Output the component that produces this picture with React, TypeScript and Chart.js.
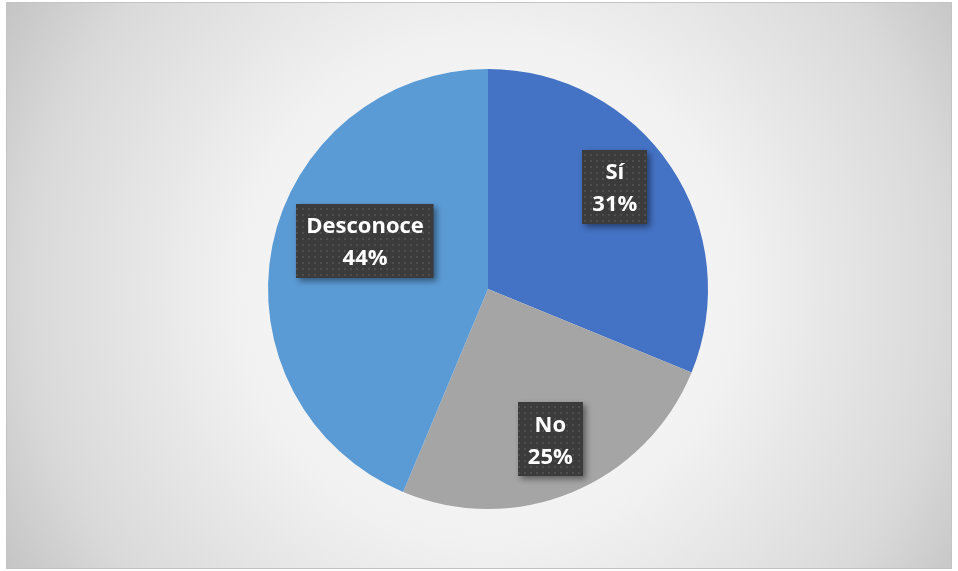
import React, {useEffect, useRef} from "react";
import {Chart, ChartConfiguration, Plugin, registerables} from "chart.js";

Chart.register(...registerables);

// data
const categories: string[] = ["Sí", "No", "Desconoce"];
const shares: number[] = [31.2, 25.1, 43.7];
const sliceColors: string[] = ["#4472C4", "#A5A5A5", "#5B9BD5"];

// label placement inside each slice (fraction of radius, angle shift in degrees)
const labelRadius: number[] = [0.74, 0.74, 0.6];
const labelShift: number[] = [-5, 0, 10];

const FONT = "bold 22px 'Open Sans', 'DejaVu Sans', sans-serif";

const makeDots = (): CanvasPattern | string => {
    const c = document.createElement("canvas");
    c.width = 6;
    c.height = 6;
    const g = c.getContext("2d");
    if (!g) return "#3d3d3d";
    g.fillStyle = "#3b3b3b";
    g.fillRect(0, 0, 6, 6);
    g.fillStyle = "#4e4e4e";
    g.fillRect(2, 2, 2, 2);
    return g.createPattern(c, "repeat") || "#3d3d3d";
};

const backgroundPlugin: Plugin<"pie"> = {
    id: "bgGradient",
    beforeDraw(chart) {
        const {ctx, width, height} = chart;
        const meta = chart.getDatasetMeta(0);
        const arc: any = meta.data[0];
        const cx = arc ? arc.x : width / 2;
        const cy = arc ? arc.y : height / 2;
        const r = Math.hypot(Math.max(cx, width - cx), Math.max(cy, height - cy));
        const grad = ctx.createRadialGradient(cx, cy, 0, cx, cy, r);
        grad.addColorStop(0, "#ffffff");
        grad.addColorStop(0.45, "#f1f1f1");
        grad.addColorStop(0.82, "#d9d9d9");
        grad.addColorStop(1, "#c4c4c4");
        ctx.save();
        ctx.fillStyle = grad;
        ctx.fillRect(0, 0, width, height);
        ctx.strokeStyle = "#c4c4c4";
        ctx.lineWidth = 1;
        ctx.strokeRect(0.5, 0.5, width - 1, height - 1);
        ctx.restore();
    },
};

const boxLabelPlugin: Plugin<"pie"> = {
    id: "boxLabels",
    afterDraw(chart) {
        const {ctx} = chart;
        const meta = chart.getDatasetMeta(0);
        const values = chart.data.datasets[0].data as number[];
        const total = values.reduce((a, b) => a + b, 0);
        const dots = makeDots();
        meta.data.forEach((el: any, i: number) => {
            const {x, y, startAngle, endAngle, outerRadius} = el.getProps(
                ["x", "y", "startAngle", "endAngle", "outerRadius"], true);
            const mid = (startAngle + endAngle) / 2 + (labelShift[i] * Math.PI) / 180;
            const px = x + Math.cos(mid) * outerRadius * labelRadius[i];
            const py = y + Math.sin(mid) * outerRadius * labelRadius[i];
            const line1 = String(chart.data.labels?.[i] ?? "");
            const line2 = Math.round((values[i] / total) * 100) + "%";

            ctx.save();
            ctx.font = FONT;
            const w = Math.max(ctx.measureText(line1).width, ctx.measureText(line2).width) + 20;
            const h = 74;
            const bx = Math.round(px - w / 2);
            const by = Math.round(py - h / 2);

            ctx.shadowColor = "rgba(0,0,0,0.45)";
            ctx.shadowBlur = 6;
            ctx.shadowOffsetX = 3;
            ctx.shadowOffsetY = 3;
            ctx.fillStyle = dots;
            ctx.fillRect(bx, by, w, h);
            ctx.restore();

            ctx.save();
            ctx.font = FONT;
            ctx.fillStyle = "#ffffff";
            ctx.textAlign = "center";
            ctx.textBaseline = "middle";
            ctx.fillText(line1, px, py - 14);
            ctx.fillText(line2, px, py + 18);
            ctx.restore();
        });
    },
};

function PieChart() {
    const chartRef = useRef<HTMLCanvasElement>(null);

    useEffect(() => {
        if (!chartRef.current) return;
        const config: ChartConfiguration<"pie", number[], string> = {
            type: "pie",
            data: {
                labels: categories,
                datasets: [
                    {
                        data: shares,
                        backgroundColor: sliceColors,
                        borderWidth: 0,
                    },
                ],
            },
            options: {
                animation: false,
                responsive: true,
                maintainAspectRatio: false,
                layout: {padding: {top: 67, bottom: 60, left: 18, right: 0}},
                plugins: {
                    legend: {display: false},
                    tooltip: {enabled: false},
                    title: {display: false},
                },
            },
            plugins: [backgroundPlugin, boxLabelPlugin],
        };
        const chart = new Chart(chartRef.current, config);
        return () => chart.destroy();
    }, []);

    return <canvas ref={chartRef} />;
}

export default function App() {
    return (
        <div style={{position: "absolute", left: 6, top: 2, width: 946, height: 567}}>
            <PieChart />
        </div>
    );
}
